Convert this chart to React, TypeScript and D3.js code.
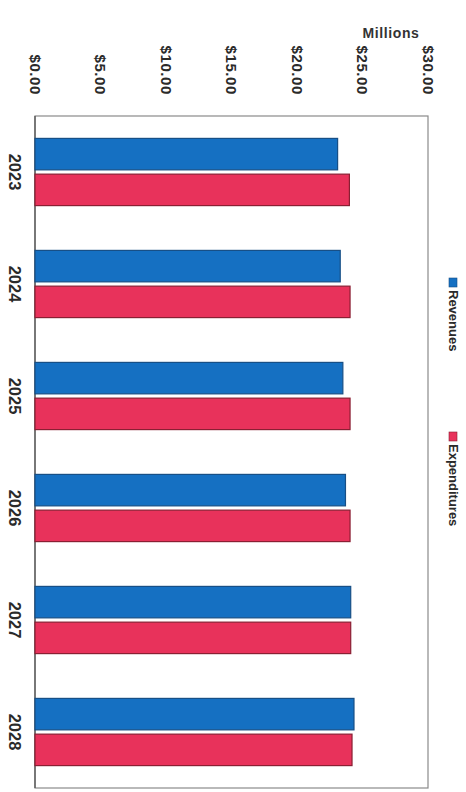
import React, { useEffect, useRef } from "react";
import * as d3 from "d3";

const years = ["2023", "2024", "2025", "2026", "2027", "2028"];
const revenues = [23.1, 23.3, 23.5, 23.7, 24.1, 24.35];
const expenditures = [24.0, 24.05, 24.05, 24.05, 24.1, 24.2];
const seriesNames = ["Revenues", "Expenditures"];
const seriesColors = ["#1570c2", "#e8325b"];
const seriesStroke = ["#174f86", "#8a1f33"];
const tickValues = [0, 5, 10, 15, 20, 25, 30];
const axisTitle = "Millions";

const W = 466;
const H = 792;

export default function App() {
  const ref = useRef<SVGSVGElement>(null);

  useEffect(() => {
    const svg = d3.select(ref.current);
    svg.selectAll("*").remove();
    const font = "'Liberation Sans', Arial, sans-serif";

    const x = d3.scaleLinear().domain([0, 30]).range([35, 428]);
    const y = d3.scaleBand<string>().domain(years).range([116, 788]).paddingInner(0.4).paddingOuter(0.2);
    const ys = d3.scaleBand<string>().domain(seriesNames).range([0, y.bandwidth()]).paddingInner(0.12);

    svg.append("rect").attr("width", W).attr("height", H).attr("fill", "#fff");

    // plot frame
    svg
      .append("rect")
      .attr("x", x(0))
      .attr("y", 116)
      .attr("width", x(30) - x(0))
      .attr("height", 788 - 116)
      .attr("fill", "#fff")
      .attr("stroke", "#8a8a8a")
      .attr("stroke-width", 1.2);
    svg
      .append("line")
      .attr("x1", x(0))
      .attr("x2", x(0))
      .attr("y1", 116)
      .attr("y2", 788)
      .attr("stroke", "#555")
      .attr("stroke-width", 1.3);

    const data = years.map((yr, i) => ({ yr, vals: [revenues[i], expenditures[i]] }));

    const g = svg.append("g");
    data.forEach((d) => {
      d.vals.forEach((v, s) => {
        g.append("rect")
          .attr("x", x(0))
          .attr("y", (y(d.yr) as number) + (ys(seriesNames[s]) as number))
          .attr("width", x(v) - x(0))
          .attr("height", ys.bandwidth())
          .attr("fill", seriesColors[s])
          .attr("stroke", seriesStroke[s])
          .attr("stroke-width", 1.2);
      });
    });

    // year labels (rotated)
    years.forEach((yr) => {
      const cy = (y(yr) as number) + y.bandwidth() / 2;
      svg
        .append("text")
        .attr("transform", `translate(15,${cy}) rotate(90)`)
        .attr("text-anchor", "middle")
        .attr("dominant-baseline", "central")
        .attr("font-family", font)
        .attr("font-weight", "bold")
        .attr("font-size", 16.5)
        .attr("fill", "#2a2a2a")
        .text(yr);
    });

    // value tick labels (rotated)
    const fmt = d3.format("$,.2f");
    tickValues.forEach((t) => {
      svg
        .append("text")
        .attr("transform", `translate(${x(t)},95) rotate(90)`)
        .attr("text-anchor", "end")
        .attr("dominant-baseline", "central")
        .attr("font-family", font)
        .attr("font-weight", "bold")
        .attr("font-size", 15)
        .attr("letter-spacing", 0.6)
        .attr("fill", "#2a2a2a")
        .text(fmt(t));
    });

    svg
      .append("text")
      .attr("x", 391)
      .attr("y", 38)
      .attr("text-anchor", "middle")
      .attr("font-family", font)
      .attr("font-weight", "bold")
      .attr("font-size", 14)
      .attr("letter-spacing", 0.6)
      .attr("fill", "#333")
      .text(axisTitle);

    // legend (rotated)
    const legendY = [278, 432];
    seriesNames.forEach((name, s) => {
      svg
        .append("rect")
        .attr("x", 449)
        .attr("y", legendY[s])
        .attr("width", 8)
        .attr("height", 9)
        .attr("fill", seriesColors[s])
        .attr("stroke", seriesStroke[s])
        .attr("stroke-width", 0.6);
      svg
        .append("text")
        .attr("transform", `translate(453,${legendY[s] + 12}) rotate(90)`)
        .attr("text-anchor", "start")
        .attr("dominant-baseline", "central")
        .attr("font-family", font)
        .attr("font-weight", "bold")
        .attr("font-size", 13)
        .attr("fill", "#2a2a2a")
        .text(name);
    });
  }, []);

  return (
    <svg
      ref={ref}
      width={W}
      height={H}
      style={{ position: "absolute", left: 0, top: 0, display: "block" }}
    />
  );
}
